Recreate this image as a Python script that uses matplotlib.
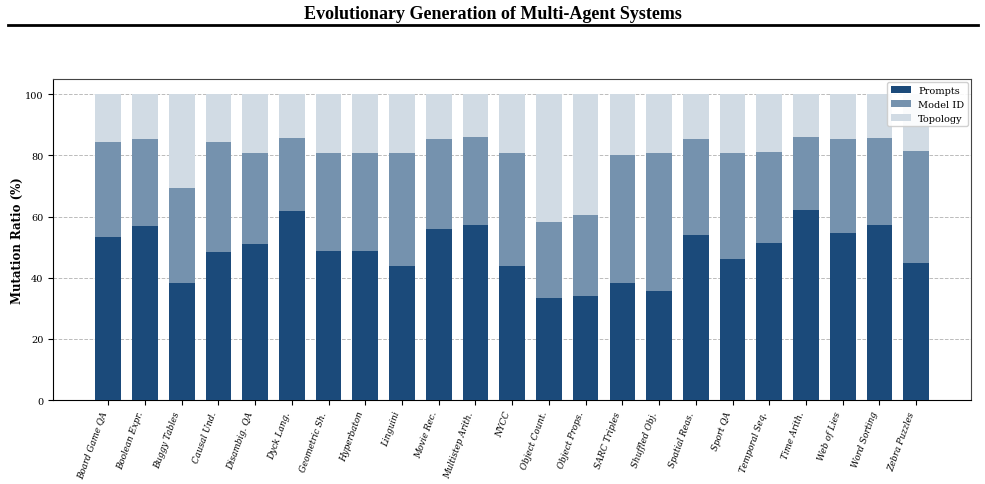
import numpy as np
import matplotlib
matplotlib.use("Agg")
import matplotlib.pyplot as plt
from matplotlib.lines import Line2D

plt.rcParams['font.family'] = 'DejaVu Serif'

tasks = ['Board Game QA', 'Boolean Expr.', 'Buggy Tables', 'Causal Und.', 'Disambig. QA',
         'Dyck Lang.', 'Geometric Sh.', 'Hyperbaton', 'Linguini', 'Movie Rec.',
         'Multistep Arith.', 'NYCC', 'Object Count.', 'Object Props.', 'SARC Triples',
         'Shuffled Obj.', 'Spatial Reas.', 'Sport QA', 'Temporal Seq.', 'Time Arith.',
         'Web of Lies', 'Word Sorting', 'Zebra Puzzles']
prompts = [53.2, 56.8, 38.4, 48.3, 51.2, 61.7, 48.9, 48.6, 44.0, 56.1, 57.1, 43.7,
           33.5, 34.2, 38.4, 35.8, 54.1, 46.3, 51.5, 62.3, 54.8, 57.1, 44.7]
model_id = [31.1, 28.5, 31.1, 36.0, 29.5, 23.9, 31.8, 32.1, 36.7, 29.2, 29.1, 37.0,
            24.6, 26.2, 41.6, 44.9, 31.2, 34.4, 29.5, 23.6, 30.5, 28.5, 36.6]
prompts = np.array(prompts)
model_id = np.array(model_id)
topology = 100 - prompts - model_id

c_prompts = '#1b4a7a'
c_model = '#7592ae'
c_topo = '#d1dbe4'

fig = plt.figure(figsize=(9.85, 4.85), dpi=100)
ax = fig.add_axes([0.054, 0.173, 0.932, 0.662])

x = np.arange(len(tasks))
w = 0.7
ax.bar(x, prompts, w, color=c_prompts, label='Prompts', zorder=3)
ax.bar(x, model_id, w, bottom=prompts, color=c_model, label='Model ID', zorder=3)
ax.bar(x, topology, w, bottom=prompts + model_id, color=c_topo, label='Topology', zorder=3)

ax.set_xlim(-1.5, 23.5)
ax.set_ylim(0, 105)
ax.set_yticks([0, 20, 40, 60, 80, 100])
ax.set_xticks(x)
ax.set_xticklabels(tasks, rotation=70, ha='right', fontstyle='italic', fontsize=6.3)
ax.tick_params(axis='y', labelsize=7)
ax.set_ylabel('Mutation Ratio (%)', fontsize=8.5, fontweight='bold', labelpad=1)
ax.grid(axis='y', linestyle='--', color='#bbbbbb', linewidth=0.7, zorder=0)
for s in ['top', 'right']:
    ax.spines[s].set_color('#444444')

ax.legend(loc='upper right', fontsize=7, framealpha=0.9, borderaxespad=0.3)

fig.text(0.5, 0.971, 'Evolutionary Generation of Multi-Agent Systems',
         ha='center', va='center', fontsize=13, fontweight='bold',
         family='Liberation Serif')
fig.add_artist(Line2D([0.008, 0.993], [0.947, 0.947], color='black', linewidth=2,
                      transform=fig.transFigure))

fig.savefig('out.png', dpi=100)
